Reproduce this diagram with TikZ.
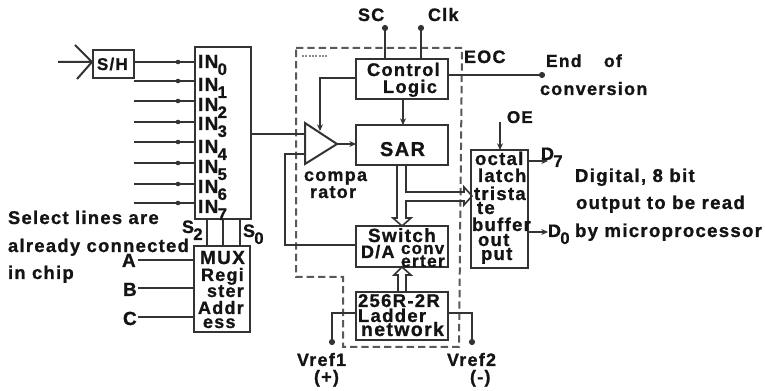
\documentclass[tikz,border=0pt]{standalone}
\usepackage{fontspec}
\setmainfont{Liberation Sans}[BoldFont=Liberation Sans Bold]
\newfontfamily\wide{Liberation Sans Bold}[LetterSpace=7,FakeBold=1]
\usetikzlibrary{arrows.meta}
\tikzset{
  wire/.style={line width=1.5pt,draw=black!80},
  box/.style={draw=black!80,line width=1.6pt,inner sep=0pt,outer sep=0pt,anchor=north west},
  arr/.style={wire,-{Stealth[length=5pt,width=4.5pt]}},
  dotend/.style={wire,-{Circle[length=4.5pt,width=4.5pt]}},
  lab/.style={inner sep=0pt,outer sep=0pt,anchor=base west,text=black!92},
  outline/.style={draw=black!65,line width=1.5pt,dash pattern=on 5.5pt off 3pt}
}
\newcommand{\pbox}[5]{\node[box,minimum width=#4*0.75pt,minimum height=#5*0.75pt] (#1) at (#2,#3) {};}
\newcommand{\Lab}[5]{\pgfmathsetmacro{\fsz}{#4*0.75}\node[lab] (#1) at (#2,#3) {\fontsize{\fsz}{\fsz}\wide #5};}
\newcommand{\Sb}[2][5.2pt]{\kern-0.5pt\raisebox{-#1}{\fontsize{12.5}{12.5}\wide #2}}
\begin{document}
\begin{tikzpicture}[x=0.75pt,y=-0.75pt]
\useasboundingbox (0,0) rectangle (765,391);
\fill[white] (0,0) rectangle (765,391);
% chip outline
\draw[outline] (296,48) -- (462,48) -- (459,347) -- (343,347) -- (343,277) -- (296,277) -- cycle;
\draw[black!45,line width=2pt,dash pattern=on 1.5pt off 1pt] (302,56) -- (328,56);
% boxes
\pbox{sh}{93}{50}{41}{28}
\pbox{inb}{195}{47}{56}{172}
\pbox{mux}{194}{246}{56}{86}
\pbox{ctl}{356}{59}{92}{40}
\pbox{sar}{356}{125}{92}{40}
\pbox{sw}{356}{226}{92}{41}
\pbox{lad}{356}{292}{92}{48}
\pbox{lat}{471}{150}{57}{118}
% comparator
\coordinate (cmpA) at (305,123);
\coordinate (cmpB) at (305,164);
\coordinate (cmpT) at (337,144);
\draw[wire] (cmpA) -- (cmpT) -- (cmpB) -- cycle;
% S/H input
\coordinate (inp) at (58,62);
\coordinate (chevA) at (75,45);
\coordinate (chevB) at (77,79);
\coordinate (shin) at (92,62);
\draw[wire] (inp) -- (shin) (chevA) -- (shin) -- (chevB);
% analogue inputs
\foreach \n/\y in {0/62,1/81,2/101,3/122,4/142,5/163,6/184,7/203}{
  \coordinate (i\n) at (134,\y);
  \draw[wire] (i\n) -- (i\n -| inb.west);
  \fill[black!80] (178,\y) circle (2.3);
}
% mux to comparator
\coordinate (cin) at (305,134);
\draw[wire] (cin -| inb.east) -- (cin);
\coordinate (cfb) at (305,154);
\coordinate (cfbd) at (285,245);
\draw[wire] (cfb) -- (cfb -| cfbd) -- (cfbd) -- (cfbd -| sw.west);
% select lines
\foreach \x in {207,223,240}{
  \draw[wire] (\x,219) -- (\x,246);
}
\foreach \n/\y in {A/260,B/288,C/317}{
  \coordinate (s\n) at (138,\y);
  \draw[wire] (s\n) -- (s\n -| mux.west);
}
% control
\coordinate (sc) at (385,25);
\coordinate (clk) at (421,25);
\draw[dotend] (sc |- ctl.north) -- (sc);
\draw[dotend] (clk |- ctl.north) -- (clk);
\coordinate (eoc) at (545,75);
\draw[dotend] (eoc -| ctl.east) -- (eoc);
\coordinate (cfk) at (320,78);
\draw[arr] (cfk -| ctl.west) -- (cfk) -- (320,131);
\coordinate (cs) at (403,99);
\draw[arr] (cs) -- (cs |- sar.north);
\coordinate (ct) at (337,144);
\draw[arr] (ct) -- (ct -| sar.west);
% SAR to D/A and latch (outlined bus arrows)
\draw[wire,line width=1.2pt] (397,165) -- (397,218) -- (393,218) -- (402,226) -- (411,218) -- (406,218) -- (406,201) -- (464,201) -- (464,205) -- (472,196) -- (464,187) -- (464,192) -- (406,192) -- (406,165);
% ladder to D/A
\draw[wire,line width=1.2pt] (398,292) -- (398,275) -- (394,275) -- (402,267) -- (411,275) -- (406,275) -- (406,292);
% ladder refs
\coordinate (vr1) at (332,345);
\coordinate (vr2) at (472,345);
\coordinate (lady) at (400,313);
\draw[dotend] (lady -| lad.west) -- (lady -| vr1) -- (vr1);
\draw[dotend] (lady -| lad.east) -- (lady -| vr2) -- (vr2);
% latch
\coordinate (oe) at (500,122);
\draw[arr] (oe) -- (oe |- lat.north);
\coordinate (d7) at (548,161);
\coordinate (d0) at (548,232);
\draw[arr] (d7 -| lat.east) -- (d7);
\draw[arr] (d0 -| lat.east) -- (d0);
% text
\Lab{tsh}{97}{70}{17}{S/H}
\Lab{tin0}{198}{68}{19}{IN\Sb{0}}
\Lab{tin1}{198}{91}{19}{IN\Sb{1}}
\Lab{tin2}{198}{111}{19}{IN\Sb{2}}
\Lab{tin3}{198}{130}{19}{IN\Sb{3}}
\Lab{tin4}{198}{153}{19}{IN\Sb{4}}
\Lab{tin5}{198}{173}{19}{IN\Sb{5}}
\Lab{tin6}{198}{193}{19}{IN\Sb{6}}
\Lab{tin7}{198}{213}{19}{IN\Sb{7}}
\Lab{ts2}{182}{233}{18}{S\Sb{2}}
\Lab{ts0}{243}{237}{18}{S\Sb{0}}
\Lab{tsel}{8}{224}{18.4}{Select lines are}
\Lab{tsel2}{8}{252}{18.4}{already connected}
\Lab{tsel3}{8}{279}{18.4}{in chip}
\Lab{ta}{122}{267}{19}{A}
\Lab{tb}{123}{296}{19}{B}
\Lab{tc}{123}{325}{19}{C}
\Lab{tm1}{200}{264}{19}{MUX}
\Lab{tm2}{201}{281}{18}{Regi}
\Lab{tm3}{207}{297}{18}{ster}
\Lab{tm4}{198}{314}{18}{Addr}
\Lab{tm5}{203}{328}{18}{ess}
\Lab{tsc}{358}{21}{18}{SC}
\Lab{tclk}{428}{21}{18}{Clk}
\Lab{teoc}{464}{63}{18}{EOC}
\Lab{tc1}{367}{76}{18.3}{Control}
\Lab{tc2}{383}{93}{18.3}{Logic}
\Lab{tsar}{380}{156}{20}{SAR}
\Lab{tcm1}{304}{181}{18}{compa}
\Lab{tcm2}{310}{198}{18}{rator}
\Lab{tsw}{368}{242}{19}{Switch}
\Lab{tda}{361}{258}{18}{D/A}
\Lab{tcv}{401}{254}{17}{conv}
\Lab{tcv2}{401}{267}{17.5}{erter}
\Lab{tl1}{358}{307}{18.5}{256R-2R}
\Lab{tl2}{358}{322}{18.5}{Ladder}
\Lab{tl3}{361}{336}{19.5}{network}
\Lab{tv1}{297}{366}{18}{Vref1}
\Lab{tv1s}{314}{383}{18}{(+)}
\Lab{tv2}{447}{366}{18}{Vref2}
\Lab{tv2s}{470}{383}{18}{(-)}
\Lab{tend}{546}{67}{17.5}{End}
\Lab{tof}{604}{67}{17.5}{of}
\Lab{tcon}{540}{95}{18}{conversion}
\Lab{toe}{507}{123}{17}{OE}
\Lab{td7}{541}{160}{18}{D\Sb{7}}
\Lab{td0}{548}{237}{18}{D\Sb{0}}
\Lab{tq1}{475}{165}{18.5}{octal}
\Lab{tq2}{478}{182}{18.5}{latch}
\Lab{tq3}{474}{200}{18.5}{trista}
\Lab{tq4}{477}{214}{18.5}{te}
\Lab{tq5}{472}{231}{18.5}{buffer}
\Lab{tq6}{478}{246}{18.5}{out}
\Lab{tq7}{481}{260}{18.5}{put}
\Lab{tdg}{575}{182}{18.6}{Digital, 8 bit}
\Lab{tdg2}{576}{209}{18.6}{output to be read}
\Lab{tdg3}{575}{237}{18.6}{by microprocessor}
\end{tikzpicture}
\end{document}
